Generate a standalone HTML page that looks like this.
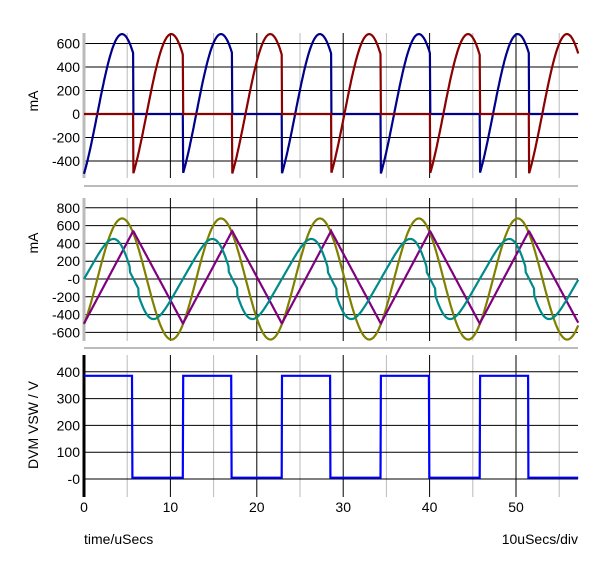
<!DOCTYPE html>
<html><head><meta charset="utf-8"><style>
body{margin:0;background:#fff;}
svg{display:block;font-family:"Liberation Sans",sans-serif;font-size:14px;}
</style></head><body>
<svg id="s" width="600" height="563" xmlns="http://www.w3.org/2000/svg"></svg>
<script>
const s=document.getElementById('s');
let h='';
const X0=84,PX=8.64,XR=578;
const X=t=>X0+t*PX;
const T=11.45;
function panel(top,bot,y0,ppu,ticks,label,labelY,bottomAxis){
  for(let t=5;t<57.5;t+=5){
    const x=X(t).toFixed(1);
    const major=(t%10===0);
    h+=`<line x1="${x}" y1="${top}" x2="${x}" y2="${bot}" stroke="${major?'#000':'#bbb'}" stroke-width="1"/>`;
  }
  for(const v of ticks){
    const y=(y0-v*ppu).toFixed(1);
    h+=`<line x1="${X0}" y1="${y}" x2="${XR}" y2="${y}" stroke="#000" stroke-width="1"/>`;
    h+=`<text x="80" y="${(+y+5)}" text-anchor="end">${v===0&&label!=='mA0'?'-0':v}</text>`;
  }
  h+=`<line x1="${X0}" y1="${top}" x2="${X0}" y2="${bot}" stroke="${bottomAxis?'#000':'#bbb'}" stroke-width="3"/>`;
  h+=`<text transform="translate(38,${labelY}) rotate(-90)" text-anchor="middle">${label==='mA0'?'mA':label}</text>`;
}
panel(33,178,114,23.5/200,[600,400,200,0,-200,-400],'mA0',101,false);
h+=`<line x1="84" y1="186" x2="578" y2="186" stroke="#bbb" stroke-width="2"/>`;
panel(198,341,279,17.8/200,[800,600,400,200,0,-200,-400,-600],'mA',243,false);
h+=`<line x1="84" y1="348" x2="578" y2="348" stroke="#bbb" stroke-width="2"/>`;
panel(355,497,479,26.8/100,[400,300,200,100,0],'DVM VSW / V',425,true);
for(let t=0;t<=50;t+=10)h+=`<text x="${X(t)}" y="512" text-anchor="middle">${t}</text>`;
h+=`<text x="84" y="544">time/uSecs</text><text x="578" y="544" text-anchor="end">10uSecs/div</text>`;
function path(f,y0,ppu,col){
  let d='';
  for(let t=0;t<=57.2;t+=0.04){
    const v=f(t);d+=(d?'L':'M')+X(t).toFixed(1)+','+(y0-v*ppu).toFixed(1);
  }
  h+=`<path d="${d}" fill="none" stroke="${col}" stroke-width="2.2"/>`;
}
const ol=t=>680*Math.sin(2*Math.PI*(t-1.54)/T);
const ph=t=>((t%T)+T)%T;
const H=5.7;
const p1=23.5/200;
path(t=>{const p=ph(t);return p<H?ol(p):0;},114,p1,'#00008b');
path(t=>{const p=ph(t-H);const q=ph(t);return q>=H?ol(p):0;},114,p1,'#8b0000');
const p2=17.8/200;
path(t=>ol(t),279,p2,'#808000');
path(t=>{const p=ph(t);return p<H?-500+1040*p/H:540-1040*(p-H)/(T-H);},279,p2,'#800080');
path(t=>{const p=ph(t);const f=p/T;const g=f-0.05*Math.sin(2*Math.PI*f);let v=450*Math.sin(2*Math.PI*g);if(p>5.3&&p<6.3)v=v*0.6;return v;},279,p2,'#008b8b');
const p3=26.8/100;
path(t=>{const p=ph(t);return p<5.6?385:5;},479,p3,'#0000ff');
s.innerHTML=h;
</script>
</body></html>
